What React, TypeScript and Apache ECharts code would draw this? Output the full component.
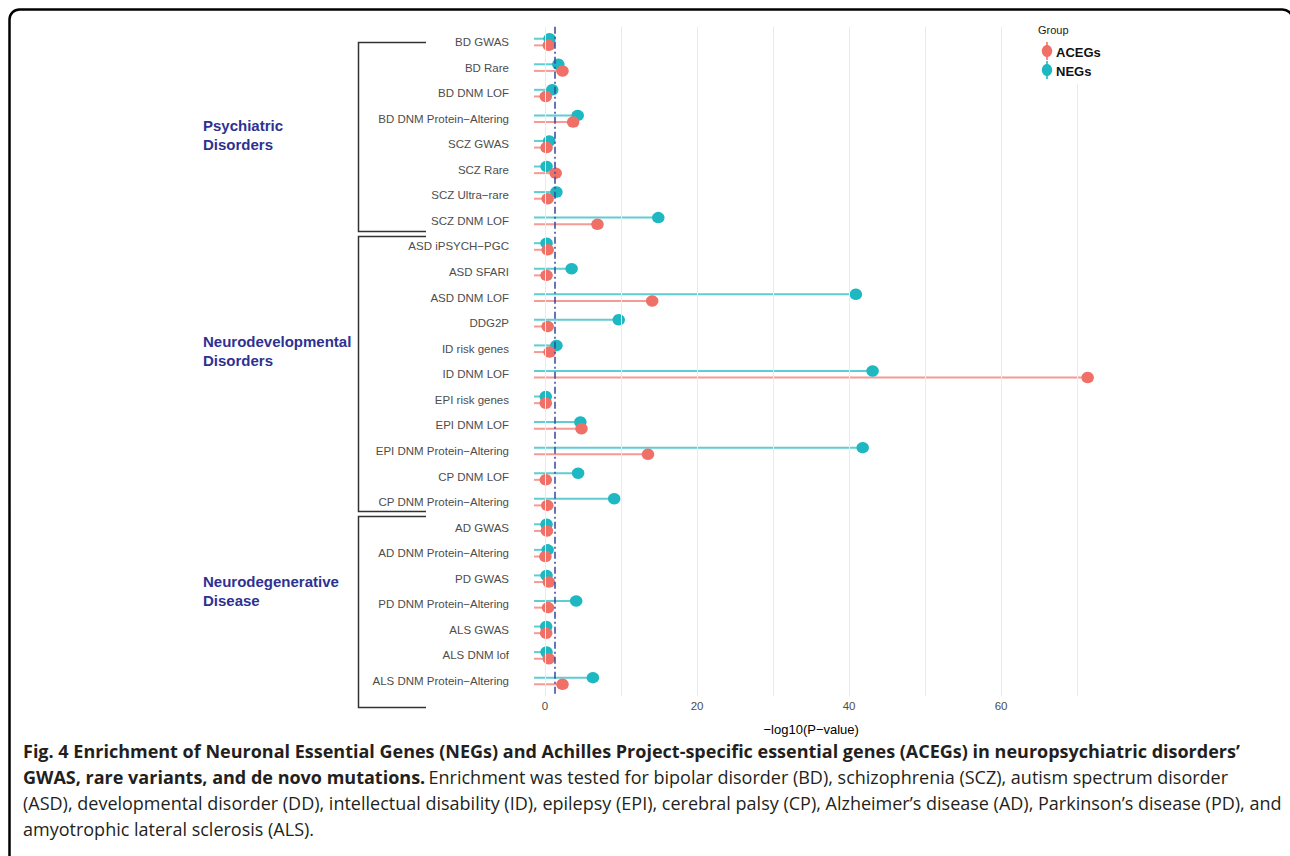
import React, { useEffect, useRef } from "react";
import * as echarts from "echarts";

// ---- data ----
const categories = [
  "BD GWAS",
  "BD Rare",
  "BD DNM LOF",
  "BD DNM Protein\u2212Altering",
  "SCZ GWAS",
  "SCZ Rare",
  "SCZ Ultra\u2212rare",
  "SCZ DNM LOF",
  "ASD iPSYCH\u2212PGC",
  "ASD SFARI",
  "ASD DNM LOF",
  "DDG2P",
  "ID risk genes",
  "ID DNM LOF",
  "EPI risk genes",
  "EPI DNM LOF",
  "EPI DNM Protein\u2212Altering",
  "CP DNM LOF",
  "CP DNM Protein\u2212Altering",
  "AD GWAS",
  "AD DNM Protein\u2212Altering",
  "PD GWAS",
  "PD DNM Protein\u2212Altering",
  "ALS GWAS",
  "ALS DNM lof",
  "ALS DNM Protein\u2212Altering",
];

// -log10(P) for Neuronal Essential Genes
const negValues = [
  0.6, 1.75, 0.95, 4.3, 0.55, 0.2, 1.5, 14.9, 0.2, 3.5, 40.9, 9.7, 1.5, 43.1,
  0.1, 4.65, 41.8, 4.35, 9.1, 0.2, 0.35, 0.2, 4.1, 0.15, 0.2, 6.3,
];

// -log10(P) for Achilles Project-specific essential genes
const acegValues = [
  0.5, 2.3, 0.1, 3.7, 0.2, 1.4, 0.35, 6.9, 0.35, 0.2, 14.1, 0.35, 0.6, 71.4,
  0.1, 4.8, 13.55, 0.1, 0.3, 0.25, 0.05, 0.5, 0.4, 0.15, 0.5, 2.3,
];

const groupNames = ["ACEGs", "NEGs"];
const xTickLabels = [0, 20, 40, 60];
const xGridValues = [0, 10, 20, 30, 40, 50, 60, 70];
const significanceLine = 1.3; // -log10(0.05)

const diseaseGroups = [
  "Psychiatric\nDisorders",
  "Neurodevelopmental\nDisorders",
  "Neurodegenerative\nDisease",
];

const captionBold1 =
  "Fig. 4 Enrichment of Neuronal Essential Genes (NEGs) and Achilles Project-specific essential genes (ACEGs) in neuropsychiatric disorders\u2019";
const captionBold2 = "GWAS, rare variants, and de novo mutations.";
const captionText = [
  "Enrichment was tested for bipolar disorder (BD), schizophrenia (SCZ), autism spectrum disorder",
  "(ASD), developmental disorder (DD), intellectual disability (ID), epilepsy (EPI), cerebral palsy (CP), Alzheimer\u2019s disease (AD), Parkinson\u2019s disease (PD), and",
  "amyotrophic lateral sclerosis (ALS).",
];

// ---- layout & style ----
const W = 1290;
const H = 856;
const X_MIN = -1.45;
const X_MAX = 71.5;
const Y_MIN = -0.6;
const Y_MAX = 25.6;
const PX_PER_UNIT = 7.6;
const GRID_LEFT = 534;
const GRID_TOP = 26.7;
const GRID_H = 669.6;
const DODGE = 0.13;

const RED = "#F07068";
const TEAL = "#1DB8C1";
const groupColors: Record<string, string> = { ACEGs: RED, NEGs: TEAL };
const LABEL_BLUE = "#2E3192";
const SANS = "'Liberation Sans', Arial, sans-serif";
const CAPTION_FONT = "'Open Sans', 'Noto Sans', sans-serif";
const CAPTION_SIZE = 18;

// bracket extents (in row units) and label anchors for the disease groups
const bracketRows: [number, number][] = [
  [0, 7.4],
  [7.6, 18.35],
  [18.55, 26.0],
];
const groupLabelRows = [3.64, 12.09, 21.48];

function stemSeries(name: string, values: number[], offset: number) {
  return {
    name: name + " stem",
    type: "custom",
    coordinateSystem: "cartesian2d",
    silent: true,
    clip: false,
    z: 2,
    data: values.map((v, i) => [v, i + offset]),
    encode: { x: 0, y: 1 },
    renderItem: (_params: any, api: any) => {
      const y = api.value(1);
      const p0 = api.coord([X_MIN, y]);
      const p1 = api.coord([api.value(0), y]);
      return {
        type: "line",
        shape: { x1: p0[0], y1: p0[1], x2: p1[0], y2: p1[1] },
        style: { stroke: groupColors[name], lineWidth: 2, opacity: 0.7 },
      };
    },
  };
}

function dotSeries(name: string, values: number[], offset: number) {
  return {
    name,
    type: "scatter",
    silent: true,
    clip: false,
    z: 3,
    symbol: "circle",
    symbolSize: [12.5, 11.5],
    itemStyle: { color: groupColors[name], opacity: 1 },
    data: values.map((v, i) => [v, i + offset]),
  };
}

export default function App() {
  const ref = useRef<HTMLDivElement>(null);

  useEffect(() => {
    if (!ref.current) return;
    const chart = echarts.init(ref.current, null, {
      renderer: "svg",
      width: W,
      height: H,
    });

    const option: any = {
      animation: false,
      backgroundColor: "#ffffff",
      grid: {
        left: GRID_LEFT,
        top: GRID_TOP,
        width: (X_MAX - X_MIN) * PX_PER_UNIT,
        height: GRID_H,
        containLabel: false,
      },
      xAxis: {
        type: "value",
        min: X_MIN,
        max: X_MAX,
        splitLine: { show: false },
        axisLine: { show: false },
        axisTick: { show: false },
        axisLabel: {
          customValues: xTickLabels,
          color: "#4D4D4D",
          fontSize: 11.5,
          fontFamily: SANS,
          margin: 4,
        },
        name: "\u2212log10(P\u2212value)",
        nameLocation: "middle",
        nameGap: 27,
        nameTextStyle: { color: "#000", fontSize: 13, fontFamily: SANS },
      },
      yAxis: {
        type: "value",
        min: Y_MIN,
        max: Y_MAX,
        inverse: true,
        splitLine: { show: false },
        axisLine: { show: false },
        axisTick: { show: false },
        axisLabel: {
          customValues: categories.map((_, i) => i),
          formatter: (v: number) => categories[Math.round(v)] ?? "",
          color: "#4D4D4D",
          fontSize: 11.5,
          fontFamily: SANS,
          margin: 25,
        },
      },
      series: [
        {
          name: "grid",
          type: "line",
          data: [],
          z: 0,
          silent: true,
          markLine: {
            silent: true,
            symbol: "none",
            label: { show: false },
            lineStyle: { color: "#EBEBEB", width: 1, type: "solid" },
            data: xGridValues.map((x) => ({ xAxis: x })),
          },
        },
        stemSeries("NEGs", negValues, -DODGE),
        stemSeries("ACEGs", acegValues, DODGE),
        dotSeries("NEGs", negValues, -DODGE),
        dotSeries("ACEGs", acegValues, DODGE),
        {
          name: "p = 0.05",
          type: "line",
          data: [],
          z: 5,
          silent: true,
          markLine: {
            silent: true,
            symbol: "none",
            label: { show: false },
            lineStyle: { color: "#36479A", width: 1.5, type: [7, 3, 2, 3] },
            data: [{ xAxis: significanceLine }],
          },
        },
      ],
    };
    chart.setOption(option);

    const yPix = (row: number) =>
      chart.convertToPixel({ gridIndex: 0 }, [0, row])[1] as number;

    const graphics: any[] = [];

    // brackets grouping the categories
    bracketRows.forEach(([r0, r1]) => {
      const y0 = Math.round(yPix(r0)) + 0.5;
      const y1 = Math.round(yPix(r1)) + 0.5;
      graphics.push({
        type: "polyline",
        silent: true,
        shape: {
          points: [
            [426, y0],
            [358.5, y0],
            [358.5, y1],
            [426, y1],
          ],
        },
        style: { stroke: "#333333", lineWidth: 1.5, fill: null },
      });
    });

    diseaseGroups.forEach((label, i) => {
      graphics.push({
        type: "text",
        silent: true,
        x: 203,
        y: yPix(groupLabelRows[i]),
        style: {
          text: label,
          fill: LABEL_BLUE,
          font: `bold 15px ${SANS}`,
          lineHeight: 18.5,
          align: "left",
          verticalAlign: "middle",
        },
      });
    });

    // legend (white backing keeps the grid lines out of it)
    graphics.push({
      type: "rect",
      silent: true,
      z: 10,
      shape: { x: 1030, y: 20, width: 80, height: 64 },
      style: { fill: "#ffffff" },
    });
    graphics.push({
      type: "text",
      silent: true,
      z: 11,
      x: 1038,
      y: 30,
      style: {
        text: "Group",
        fill: "#1A1A1A",
        font: `11px ${SANS}`,
        verticalAlign: "middle",
      },
    });
    groupNames.forEach((g, i) => {
      const cy = 51 + i * 19;
      graphics.push({
        type: "group",
        silent: true,
        z: 11,
        children: [
          {
            type: "line",
            z: 11,
            shape: { x1: 1047, y1: cy - 9, x2: 1047, y2: cy + 9 },
            style: { stroke: groupColors[g], lineWidth: 1.6 },
          },
          {
            type: "ellipse",
            z: 11,
            shape: { cx: 1047, cy, rx: 5.2, ry: 6 },
            style: { fill: groupColors[g] },
          },
          {
            type: "text",
            z: 11,
            x: 1056,
            y: cy + 1,
            style: {
              text: g,
              fill: "#111111",
              font: `bold 13px ${SANS}`,
              verticalAlign: "middle",
            },
          },
        ],
      });
    });

    // figure frame
    graphics.push({
      type: "rect",
      silent: true,
      shape: { x: 9.5, y: 9.5, width: 1283, height: 920, r: 10 },
      style: { fill: null, stroke: "#000000", lineWidth: 2.5 },
    });

    // caption
    const capY = [751, 777, 803, 829];
    graphics.push({
      type: "text",
      silent: true,
      x: 23,
      y: capY[0],
      style: {
        text: captionBold1,
        fill: "#231F20",
        font: `bold ${CAPTION_SIZE}px ${CAPTION_FONT}`,
        verticalAlign: "middle",
      },
    });
    graphics.push({
      type: "text",
      silent: true,
      x: 23,
      y: capY[1],
      style: {
        text: `{b|${captionBold2}} {r|${captionText[0]}}`,
        verticalAlign: "middle",
        rich: {
          b: { fill: "#231F20", font: `bold ${CAPTION_SIZE}px ${CAPTION_FONT}` },
          r: { fill: "#231F20", font: `${CAPTION_SIZE}px ${CAPTION_FONT}` },
        },
      },
    });
    [captionText[1], captionText[2]].forEach((t, i) => {
      graphics.push({
        type: "text",
        silent: true,
        x: 23,
        y: capY[2 + i],
        style: {
          text: t,
          fill: "#231F20",
          font: `${CAPTION_SIZE}px ${CAPTION_FONT}`,
          verticalAlign: "middle",
        },
      });
    });

    chart.setOption({ graphic: graphics });

    return () => chart.dispose();
  }, []);

  return (
    <div
      style={{
        position: "fixed",
        left: 0,
        top: 0,
        width: W,
        height: H,
        background: "#fff",
      }}
    >
      <div ref={ref} style={{ width: W, height: H }} />
    </div>
  );
}
